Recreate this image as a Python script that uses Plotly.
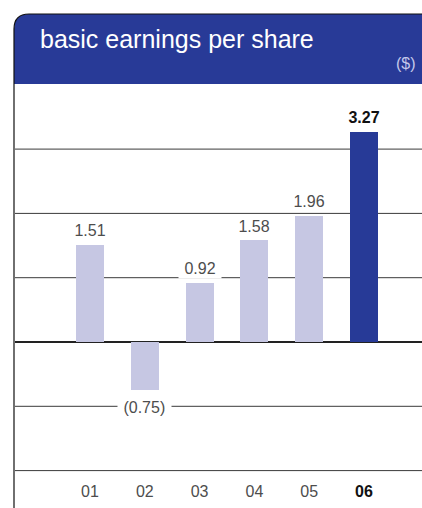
import plotly.graph_objects as go

# ---- data ----
years = ["01", "02", "03", "04", "05", "06"]
eps = [1.51, -0.75, 0.92, 1.58, 1.96, 3.27]
tick_labels = ["01", "02", "03", "04", "05", "06"]
grid_values = [-2, -1, 1, 2, 3]
title_text = "basic earnings per share"
unit_text = "($)"

# ---- style ----
LIGHT = "#c6c7e3"
DARK = "#273a97"
HEADER = "#283a97"
GRAY_TXT = "#4d4d4d"
FONT = "Liberation Sans, Arial, sans-serif"

W, H = 422, 508
L, R, T, B = 15, 0, 84, 28
pw, ph = W - L - R, H - T - B

def px_x(x):
    return (x - L) / pw

def px_y(y):
    return (H - B - y) / ph

colors = [LIGHT] * (len(years) - 1) + [DARK]

fig = go.Figure()
fig.add_trace(go.Bar(x=years, y=eps, marker=dict(color=colors, line=dict(width=0)),
                     width=0.511, hoverinfo="skip"))

# value labels (x given as category index on the category axis)
annotations = []
for i, v in enumerate(eps):
    txt = f"{v:.2f}" if v >= 0 else f"({abs(v):.2f})"
    last = i == len(years) - 1
    if last:
        txt = f"<b>{txt}</b>"
    annotations.append(dict(
        x=i, y=v, xref="x", yref="y", text="\u00a0" + txt + "\u00a0",
        showarrow=False, yanchor="middle", xanchor="center",
        yshift=14 if v >= 0 else -17,
        bgcolor="white", borderpad=1,
        font=dict(family=FONT, size=16, color="#111" if last else GRAY_TXT),
    ))

# title and unit in header
annotations.append(dict(x=px_x(38), y=px_y(39), xref="paper", yref="paper",
                        text=title_text, showarrow=False, xanchor="left", yanchor="middle",
                        font=dict(family=FONT, size=25, color="white")))
annotations.append(dict(x=px_x(418), y=px_y(64), xref="paper", yref="paper",
                        text=unit_text, showarrow=False, xanchor="right", yanchor="middle",
                        font=dict(family=FONT, size=16, color="#c4c8ea")))

# header shape with rounded corner
x0 = px_x(14)
x1 = px_x(W + 5)
yt = px_y(14)
yb = px_y(84)
rx = 15 / pw
ry = 15 / ph
ybot = px_y(H + 5)
header_path = (f"M {x0},{yb} L {x0},{yt - ry} Q {x0},{yt} {x0 + rx},{yt} "
               f"L {x1},{yt} L {x1},{yb} Z")
outline_path = (f"M {x0},{ybot} L {x0},{yt - ry} Q {x0},{yt} {x0 + rx},{yt} L {x1},{yt}")
shapes = []
# horizontal grid lines (below bars), spanning to the right edge
for g in grid_values:
    shapes.append(dict(type="line", xref="paper", yref="y", x0=0, x1=1.05, y0=g, y1=g,
                       line=dict(color="#3a3a3a", width=1), layer="below"))
shapes += [
    dict(type="path", path=header_path, xref="paper", yref="paper",
         fillcolor=HEADER, line=dict(width=0), layer="above"),
    dict(type="path", path=outline_path, xref="paper", yref="paper",
         line=dict(color="#111", width=1.2), layer="above"),
]

# axis ranges derived from pixel geometry: zero at y=342, 64.3 px/unit
zero_px, unit_px = 342, 64.3
y_top = (zero_px - T) / unit_px
y_bot = (zero_px - (H - B)) / unit_px
x_c0, x_step = 90, 54.8
x_left = (L - x_c0) / x_step
x_right = (W - R - x_c0) / x_step

ticktext = tick_labels[:-1] + [f"<b><span style='color:#111'>{tick_labels[-1]}</span></b>"]

fig.update_layout(
    width=W, height=H,
    margin=dict(l=L, r=R, t=T, b=B),
    paper_bgcolor="white", plot_bgcolor="white",
    showlegend=False,
    annotations=annotations, shapes=shapes,
    xaxis=dict(type="category", range=[x_left, x_right], tickvals=years, ticktext=ticktext,
               showgrid=False, zeroline=False, showline=False, ticks="",
               tickfont=dict(family=FONT, size=16, color=GRAY_TXT), fixedrange=True),
    yaxis=dict(range=[y_bot, y_top], showticklabels=False, showgrid=False,
               zeroline=True, zerolinecolor="#222", zerolinewidth=1.5,
               showline=False, ticks="", fixedrange=True),
    bargap=0,
)

fig.write_html("out.html", config={"displayModeBar": False},
               post_script="document.body.style.margin='0';document.body.style.overflow='hidden';")
